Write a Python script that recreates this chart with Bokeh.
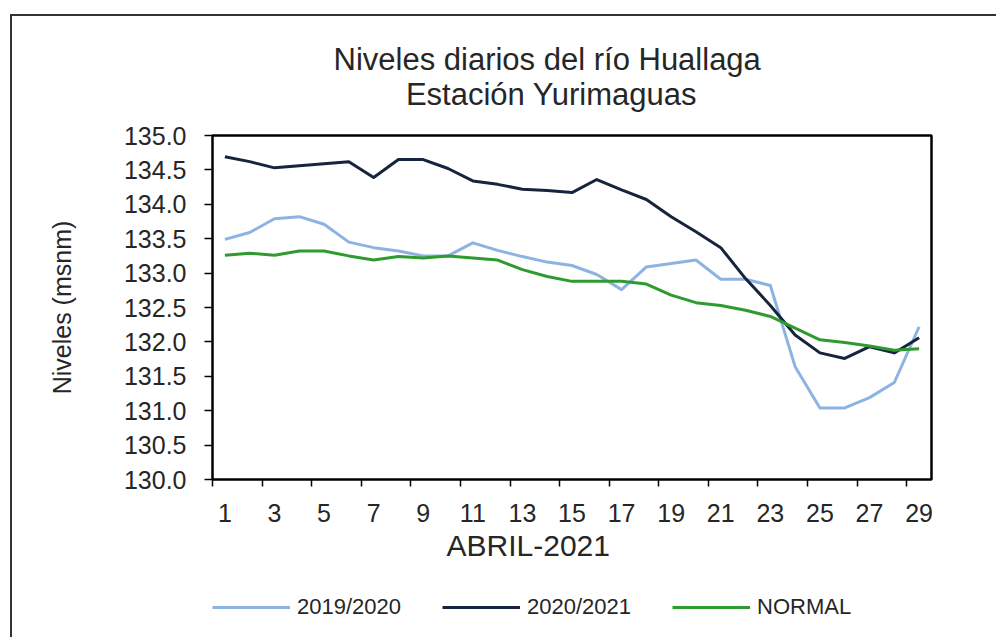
import numpy as np
from bokeh.plotting import figure
from bokeh.layouts import column
from bokeh.models import FixedTicker, Legend, LegendItem, PrintfTickFormatter, Title, Label
from bokeh.embed import file_html
from bokeh.resources import INLINE

# ---------------- data ----------------
days = list(range(1, 30))
serie_2019_2020 = [133.49, 133.59, 133.79, 133.82, 133.71, 133.45, 133.37, 133.32, 133.25, 133.25,
                   133.44, 133.33, 133.24, 133.16, 133.11, 132.98, 132.76, 133.09, 133.14, 133.19,
                   132.91, 132.91, 132.82, 131.64, 131.04, 131.04, 131.19, 131.41, 132.22]
serie_2020_2021 = [134.69, 134.62, 134.53, 134.56, 134.59, 134.62, 134.39, 134.65, 134.65, 134.52,
                   134.34, 134.29, 134.22, 134.20, 134.17, 134.36, 134.21, 134.07, 133.82, 133.60,
                   133.37, 132.92, 132.53, 132.10, 131.84, 131.76, 131.93, 131.84, 132.06]
serie_normal = [133.26, 133.29, 133.26, 133.32, 133.32, 133.25, 133.19, 133.24, 133.22, 133.25,
                133.22, 133.19, 133.05, 132.95, 132.88, 132.88, 132.88, 132.84, 132.68, 132.57,
                132.53, 132.46, 132.37, 132.20, 132.03, 131.99, 131.94, 131.88, 131.90]
y_ticks = [130.0, 130.5, 131.0, 131.5, 132.0, 132.5, 133.0, 133.5, 134.0, 134.5, 135.0]
x_tick_days = list(range(1, 30, 2))
series_names = ["2019/2020", "2020/2021", "NORMAL"]
title_lines = ["Niveles  diarios del río Huallaga", "Estación Yurimaguas"]
x_title = "ABRIL-2021"
y_title = "Niveles (msnm)"

# ---------------- style ----------------
FONT = "Liberation Sans"
TXT = "#262626"
colors = ["#8db3e2", "#16243d", "#2f9a2f"]
W = 984


def strip(height):
    f = figure(width=W, height=height, x_range=(0, 1), y_range=(0, 1),
               x_axis_location=None, y_axis_location=None, min_border=0,
               output_backend="svg", toolbar_location=None)
    f.outline_line_color = None
    f.xgrid.grid_line_color = None
    f.ygrid.grid_line_color = None
    f.background_fill_color = "white"
    f.border_fill_color = "white"
    return f


# ---------------- title strip ----------------
t = strip(105)
t.add_layout(Label(x=339, y=62, x_units="screen", y_units="screen", text=title_lines[0],
                   text_align="center", text_baseline="middle", text_font=FONT,
                   text_font_size="31px", text_color=TXT))
t.add_layout(Label(x=339, y=27, x_units="screen", y_units="screen", text=title_lines[1],
                   text_align="center", text_baseline="middle", text_font=FONT,
                   text_font_size="31px", text_color=TXT))

# ---------------- main chart ----------------
p = figure(width=W, height=453, x_range=(0.5, 29.5), y_range=(130, 135),
           output_backend="svg", toolbar_location=None,
           min_border_left=200, min_border_right=65, min_border_top=14, min_border_bottom=95)
p.background_fill_color = "white"
p.border_fill_color = "white"
p.outline_line_color = "black"
p.outline_line_width = 2.5
p.xgrid.grid_line_color = None
p.ygrid.grid_line_color = None

# y axis
p.yaxis.ticker = FixedTicker(ticks=y_ticks)
p.yaxis.formatter = PrintfTickFormatter(format="%.1f")
p.yaxis.axis_line_color = None
p.yaxis.major_tick_out = 8
p.yaxis.major_tick_in = 0
p.yaxis.major_tick_line_width = 1.5
p.yaxis.minor_tick_out = 0
p.yaxis.minor_tick_in = 0
p.yaxis.major_label_standoff = 18
p.yaxis.major_label_text_font = FONT
p.yaxis.major_label_text_font_size = "25px"
p.yaxis.major_label_text_color = TXT
p.yaxis.axis_label = y_title
p.yaxis.axis_label_text_font = FONT
p.yaxis.axis_label_text_font_size = "25px"
p.yaxis.axis_label_text_font_style = "normal"
p.yaxis.axis_label_text_color = TXT
p.yaxis.axis_label_standoff = 45

# x axis
p.xaxis.ticker = FixedTicker(ticks=x_tick_days, minor_ticks=[d - 0.5 for d in x_tick_days])
p.xaxis.axis_line_color = None
p.xaxis.major_tick_out = 0
p.xaxis.major_tick_in = 0
p.xaxis.minor_tick_out = 7
p.xaxis.minor_tick_in = 0
p.xaxis.minor_tick_line_color = "black"
p.xaxis.minor_tick_line_width = 1.5
p.xaxis.major_label_standoff = 17
p.xaxis.major_label_text_font = FONT
p.xaxis.major_label_text_font_size = "25px"
p.xaxis.major_label_text_color = TXT

# lines
for vals, col in zip([serie_2019_2020, serie_2020_2021, serie_normal], colors):
    p.line(days, vals, line_color=col, line_width=3, line_join="round")

# x axis title
p.add_layout(Title(text=x_title, align="left", offset=234, standoff=4,
                   text_font=FONT, text_font_size="30px", text_font_style="normal",
                   text_color=TXT), "below")

# ---------------- legend strip ----------------
q = strip(63)
handles = [q.line(x=np.array([np.nan]), y=np.array([np.nan]), line_color=col, line_width=3)
           for col in colors]
legend = Legend(items=[LegendItem(label=n, renderers=[r]) for n, r in zip(series_names, handles)],
                orientation="horizontal", location=(0, 17),
                background_fill_alpha=0, border_line_color=None,
                padding=0, margin=0, spacing=41,
                glyph_width=78, glyph_height=24, label_height=24, label_standoff=7,
                label_text_font=FONT, label_text_font_size="22px", label_text_color=TXT)
q.add_layout(legend)

layout = column(t, p, q, margin=(14, 0, 0, 10),
                styles={"border-left": "2px solid #333333", "border-top": "2px solid #333333"})

open("out.html", "w").write(file_html(layout, INLINE))
